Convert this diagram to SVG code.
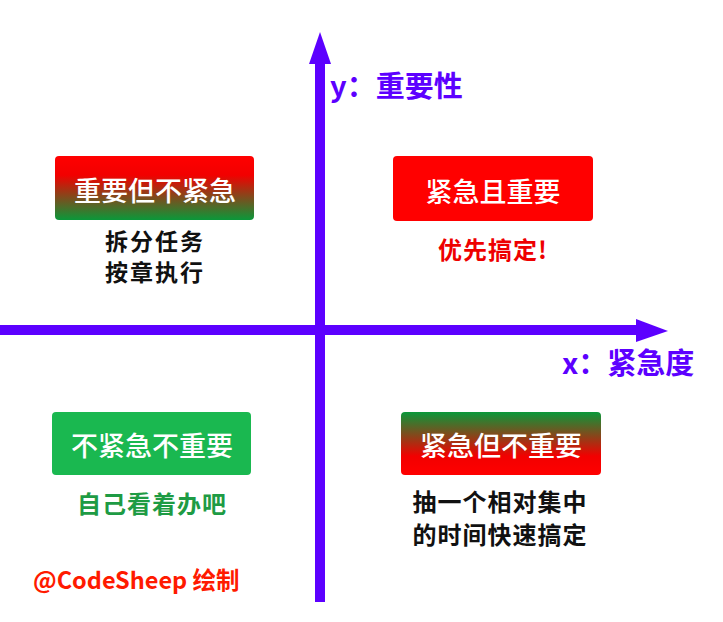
<svg xmlns="http://www.w3.org/2000/svg" width="723" height="622" viewBox="0 0 723 622">
<style>
text{font-family:"Noto Sans CJK SC","Noto Sans",sans-serif;}
.title{font-size:27px;fill:#ffffff;font-weight:500;text-anchor:middle;dominant-baseline:central;}
.sub{font-size:24px;font-weight:bold;letter-spacing:1px;text-anchor:middle;dominant-baseline:central;}
.sub2{font-size:23px;letter-spacing:2px;}
.axis{fill:#5c00ff;}
.lbl{font-size:29px;font-weight:bold;fill:#5c00ff;dominant-baseline:central;}
</style>
<defs>
<linearGradient id="rg" x1="0" y1="0" x2="0" y2="1">
<stop offset="0" stop-color="#ff0000"/>
<stop offset="0.3" stop-color="#f20000"/>
<stop offset="1" stop-color="#0a983a"/>
</linearGradient>
<linearGradient id="gr" x1="0" y1="0" x2="0" y2="1">
<stop offset="0" stop-color="#0a983a"/>
<stop offset="0.7" stop-color="#f20000"/>
<stop offset="1" stop-color="#ff0000"/>
</linearGradient>
</defs>
<rect width="723" height="622" fill="#ffffff"/>
<g id="connectors">
<rect class="axis" x="0" y="325" width="640" height="10"/>
<polygon class="axis" points="636,319 668,331 636,342"/>
<rect class="axis" x="315" y="60" width="10" height="542"/>
<polygon class="axis" points="309,64 320,32 331,64"/>
</g>
<g id="label-y"><text class="lbl" x="330" y="84">y：重要性</text></g>
<g id="label-x"><text class="lbl" x="562" y="361">x：紧急度</text></g>
<g id="q-important-not-urgent">
<rect x="55" y="156" width="199" height="64" rx="4" fill="url(#rg)"/>
<text class="title" x="155" y="189">重要但不紧急</text>
<text class="sub sub2" x="155" y="240" fill="#111111">拆分任务</text>
<text class="sub sub2" x="155" y="271" fill="#111111">按章执行</text>
</g>
<g id="q-urgent-important">
<rect x="393" y="156" width="200" height="65" rx="4" fill="#ff0000"/>
<text class="title" x="493" y="190">紧急且重要</text>
<text class="sub" x="493" y="248" fill="#ee0000">优先搞定!</text>
</g>
<g id="q-not-urgent-not-important">
<rect x="52" y="412" width="199" height="63" rx="4" fill="#1ab850"/>
<text class="title" x="152" y="444">不紧急不重要</text>
<text class="sub" x="152" y="502" fill="#1e9b44">自己看着办吧</text>
</g>
<g id="q-urgent-not-important">
<rect x="401" y="412" width="200" height="63" rx="4" fill="url(#gr)"/>
<text class="title" x="501" y="444">紧急但不重要</text>
<text class="sub" x="500" y="500" fill="#111111">抽一个相对集中</text>
<text class="sub" x="500" y="533" fill="#111111">的时间快速搞定</text>
</g>
<g id="credit"><text x="33" y="579" font-size="23.5" font-weight="bold" fill="#ff1a00" dominant-baseline="central">@CodeSheep 绘制</text></g>
</svg>
